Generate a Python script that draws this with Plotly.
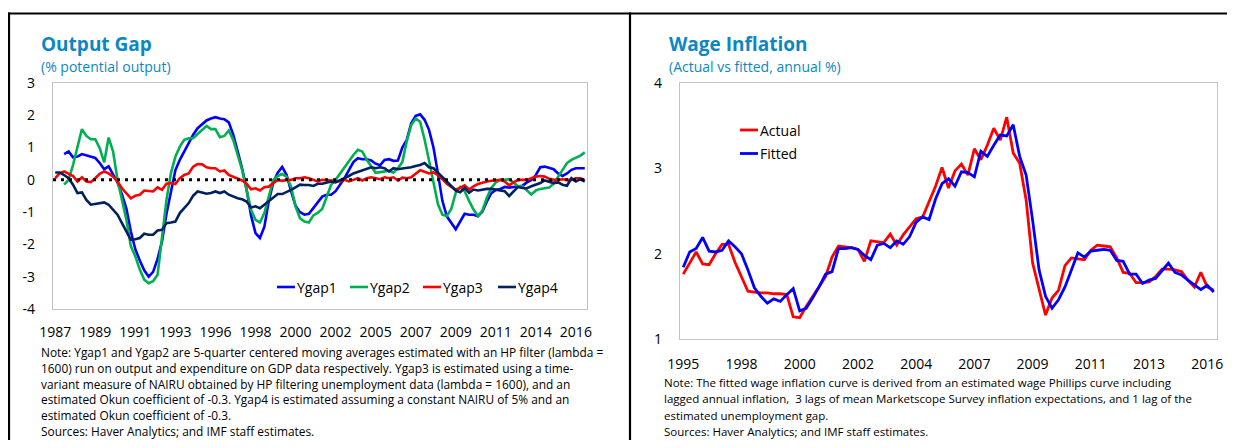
import plotly.graph_objects as go

# ---------------- data ----------------
left_quarters = [f"{1987 + i // 4}Q{i % 4 + 1}" for i in range(120)]
left_tick_quarters = ["1987Q1", "1989Q2", "1991Q3", "1993Q4", "1996Q1", "1998Q2", "2000Q3",
                      "2002Q4", "2005Q1", "2007Q2", "2009Q3", "2011Q4", "2014Q1", "2016Q2"]
left_tick_labels = ["1987", "1989", "1991", "1993", "1996", "1998", "2000",
                    "2002", "2005", "2007", "2009", "2011", "2014", "2016"]
left_y_ticks = [-4, -3, -2, -1, 0, 1, 2, 3]
left_y_labels = ["-4", "-3", "-2", "-1", "0", "1", "2", "3"]

ygap1 = [None, None, 0.80, 0.88, 0.70, 0.72, 0.80, 0.76, 0.70, 0.68,
         0.52, 0.33, 0.42, 0.15, -0.08, -0.45, -0.9, -1.6, -2.15, -2.5,
         -2.8, -3.0, -2.85, -2.45, -1.9, -1.05, -0.35, 0.3, 0.62, 0.88,
         1.15, 1.4, 1.6, 1.72, 1.84, 1.9, 1.94, 1.9, 1.88, 1.78,
         1.4, 0.88, 0.35, -0.3, -1.1, -1.65, -1.8, -1.45, -0.65, -0.08,
         0.22, 0.4, 0.15, -0.35, -0.8, -1.0, -1.08, -1.05, -0.88, -0.72,
         -0.52, -0.46, -0.46, -0.35, -0.15, 0.05, 0.3, 0.55, 0.67, 0.64,
         0.64, 0.6, 0.5, 0.45, 0.62, 0.64, 0.59, 0.6, 1.0, 1.24,
         1.75, 1.98, 2.03, 1.86, 1.55, 1.0, 0.2, -0.65, -1.13, -1.34,
         -1.53, -1.29, -1.05, -1.08, -1.08, -1.13, -0.98, -0.67, -0.41, -0.31,
         -0.28, -0.22, -0.24, -0.22, -0.21, -0.18, -0.08, 0.0, 0.15, 0.39,
         0.41, 0.36, 0.33, 0.2, 0.12, 0.2, 0.31, 0.36, 0.36, 0.36]
ygap2 = [None, None, -0.15, 0.0, 0.46, 1.03, 1.57, 1.36, 1.26, 1.26,
         0.98, 0.54, 1.31, 0.88, 0.0, -0.62, -1.24, -2.06, -2.37, -2.78,
         -3.09, -3.2, -3.14, -2.94, -1.75, -0.62, 0.21, 0.72, 1.03, 1.24,
         1.29, 1.29, 1.42, 1.53, 1.67, 1.57, 1.57, 1.32, 1.36, 1.53,
         1.24, 0.77, 0.31, -0.31, -0.93, -1.24, -1.32, -1.03, -0.52, 0.0,
         0.12, 0.18, 0.1, -0.21, -0.82, -1.19, -1.29, -1.32, -1.1, -1.02,
         -0.9, -0.55, -0.15, 0.0, 0.2, 0.41, 0.57, 0.77, 0.93, 0.88,
         0.62, 0.4, 0.22, 0.24, 0.27, 0.28, 0.22, 0.36, 0.55, 1.2,
         1.7, 1.9, 1.8, 1.25, 0.6, -0.05, -0.75, -1.08, -1.12, -0.9,
         -0.4, -0.22, -0.35, -0.65, -0.92, -1.12, -0.95, -0.55, -0.25, -0.08,
         0.0, 0.0, 0.02, -0.08, -0.2, -0.2, -0.33, -0.45, -0.33, -0.28,
         -0.26, -0.24, -0.12, 0.08, 0.3, 0.52, 0.62, 0.68, 0.75, 0.85]
ygap3 = [0.05, 0.2, 0.26, 0.18, 0.12, -0.05, 0.08, -0.05, -0.07, 0.05,
         0.19, 0.26, 0.2, 0.1, -0.05, -0.26, -0.41, -0.57, -0.49, -0.46,
         -0.33, -0.34, -0.36, -0.23, -0.31, -0.12, -0.1, -0.13, 0.05, 0.15,
         0.2, 0.41, 0.49, 0.48, 0.39, 0.36, 0.36, 0.26, 0.29, 0.15,
         0.1, 0.05, -0.02, -0.12, -0.29, -0.26, -0.33, -0.23, -0.21, -0.1,
         0.0, -0.03, 0.0, 0.0, 0.05, 0.05, 0.08, 0.05, 0.0, -0.05,
         0.0, 0.0, -0.02, -0.03, -0.05, 0.0, -0.05, 0.0, 0.05, -0.02,
         0.05, 0.08, 0.05, 0.02, 0.08, 0.05, 0.08, -0.02, 0.07, 0.05,
         0.08, 0.2, 0.3, 0.25, 0.2, 0.23, 0.15, 0.02, -0.12, -0.22,
         -0.3, -0.25, -0.17, -0.3, -0.2, -0.13, -0.08, -0.05, -0.03, -0.02,
         0.0, -0.05, -0.17, -0.08, 0.0, 0.0, 0.0, 0.05, 0.1, 0.12,
         0.1, 0.03, 0.0, 0.0, 0.02, 0.0, 0.0, 0.05, 0.05, 0.0]
ygap4 = [0.23, 0.23, 0.15, 0.05, -0.15, -0.41, -0.39, -0.62, -0.77, -0.74,
         -0.72, -0.7, -0.77, -0.93, -1.08, -1.34, -1.6, -1.86, -1.84, -1.8,
         -1.67, -1.7, -1.7, -1.57, -1.55, -1.34, -1.32, -1.29, -1.03, -0.88,
         -0.72, -0.49, -0.36, -0.39, -0.43, -0.41, -0.36, -0.41, -0.36, -0.46,
         -0.52, -0.57, -0.6, -0.67, -0.86, -0.82, -0.88, -0.77, -0.67, -0.57,
         -0.44, -0.44, -0.38, -0.31, -0.23, -0.15, -0.16, -0.16, -0.19, -0.12,
         -0.12, -0.08, -0.05, -0.08, -0.02, 0.05, 0.12, 0.2, 0.25, 0.31,
         0.36, 0.39, 0.36, 0.39, 0.36, 0.26, 0.36, 0.33, 0.35, 0.36,
         0.39, 0.43, 0.46, 0.52, 0.39, 0.36, 0.22, 0.1, -0.05, -0.2,
         -0.33, -0.38, -0.25, -0.4, -0.3, -0.33, -0.3, -0.28, -0.28, -0.3,
         -0.31, -0.35, -0.5, -0.36, -0.22, -0.25, -0.26, -0.2, -0.15, -0.1,
         -0.02, -0.05, -0.1, -0.08, -0.15, -0.18, 0.05, -0.05, 0.02, -0.05]
gap_names = ["Ygap1", "Ygap2", "Ygap3", "Ygap4"]
gap_colors = ["#0000ff", "#00b050", "#ff0000", "#002060"]

right_quarters = [f"{1995 + (i + 3) // 4}Q{(i + 3) % 4 + 1}" for i in range(83)]
right_tick_quarters = ["1995Q4", "1998Q1", "2000Q2", "2002Q3", "2004Q4",
                       "2007Q1", "2009Q2", "2011Q3", "2013Q4", "2016Q1"]
right_tick_labels = ["1995", "1998", "2000", "2002", "2004",
                     "2007", "2009", "2011", "2013", "2016"]
right_y_ticks = [1, 2, 3, 4]
right_y_labels = ["1", "2", "3", "4"]

actual = [1.76, 1.89, 2.02, 1.88, 1.87, 2.0, 2.11, 2.11, 1.9, 1.73,
          1.56, 1.55, 1.54, 1.54, 1.53, 1.53, 1.52, 1.26, 1.25, 1.38,
          1.5, 1.61, 1.73, 1.96, 2.09, 2.08, 2.07, 2.05, 1.91, 2.15,
          2.14, 2.13, 2.23, 2.1, 2.22, 2.32, 2.41, 2.43, 2.62, 2.79,
          3.01, 2.77, 2.97, 3.05, 2.92, 3.23, 3.1, 3.27, 3.47, 3.33,
          3.6, 3.18, 3.06, 2.63, 1.89, 1.57, 1.28, 1.48, 1.57, 1.86,
          1.95, 1.94, 1.93, 2.04, 2.1, 2.09, 2.08, 1.95, 1.78, 1.77,
          1.66, 1.66, 1.67, 1.73, 1.82, 1.82, 1.81, 1.79, 1.69, 1.61,
          1.78, 1.61, 1.57]
fitted = [1.84, 2.02, 2.06, 2.19, 2.03, 2.02, 2.04, 2.15, 2.08, 2.0,
          1.81, 1.6, 1.5, 1.42, 1.47, 1.44, 1.52, 1.59, 1.33, 1.36,
          1.48, 1.61, 1.76, 1.79, 2.06, 2.06, 2.07, 2.05, 1.98, 1.93,
          2.1, 2.12, 2.07, 2.15, 2.11, 2.2, 2.37, 2.43, 2.4, 2.64,
          2.82, 2.88, 2.79, 2.96, 2.95, 2.9, 3.2, 3.14, 3.27, 3.39,
          3.38, 3.51, 3.14, 2.92, 2.39, 1.81, 1.5, 1.36, 1.46, 1.61,
          1.81, 2.01, 1.96, 2.03, 2.04, 2.05, 2.04, 1.92, 1.91, 1.76,
          1.76, 1.65, 1.69, 1.71, 1.8, 1.89, 1.78, 1.75, 1.69, 1.64,
          1.58, 1.63, 1.55]
wage_names = ["Actual", "Fitted"]
wage_colors = ["#ff0000", "#0000ff"]

left_title = "Output Gap"
left_subtitle = "(% potential output)"
right_title = "Wage Inflation"
right_subtitle = "(Actual vs fitted, annual %)"
left_notes = [
    "Note: Ygap1 and Ygap2 are 5-quarter centered moving averages estimated with an HP filter (lambda =",
    "1600) run on output and expenditure on GDP data respectively. Ygap3 is estimated using a time-",
    "variant measure of NAIRU obtained by HP filtering unemployment data (lambda = 1600), and an",
    "estimated Okun coefficient of -0.3. Ygap4 is estimated assuming a constant NAIRU of 5% and an",
    "estimated Okun coefficient of -0.3.",
    "Sources: Haver Analytics; and IMF staff estimates.",
]
right_notes = [
    "Note: The fitted wage inflation curve is derived from an estimated wage Phillips curve including",
    "lagged annual inflation,  3 lags of mean Marketscope Survey inflation expectations, and 1 lag of the",
    "estimated unemployment gap.",
    "Sources: Haver Analytics; and IMF staff estimates.",
]

# ---------------- layout helpers ----------------
# page is 1235x448 with the default 8px body margin -> figure 1219x432 at (8, 8)
OFF = 8
W, H = 1235 - 2 * OFF, 448 - 2 * OFF
FONT = "Open Sans"
TITLE_COLOR = "#0b87c2"


def px(x):
    return (x - OFF) / W


def py(y):
    return 1 - (y - OFF) / H


fig = go.Figure()

for name, vals, col in zip(gap_names, [ygap1, ygap2, ygap3, ygap4], gap_colors):
    fig.add_trace(go.Scatter(x=left_quarters, y=vals, mode="lines", name=name,
                             line=dict(color=col, width=2.6), xaxis="x", yaxis="y",
                             showlegend=False, connectgaps=False))

for name, vals, col in zip(wage_names, [actual, fitted], wage_colors):
    fig.add_trace(go.Scatter(x=right_quarters, y=vals, mode="lines", name=name,
                             line=dict(color=col, width=2.8), xaxis="x2", yaxis="y2",
                             showlegend=False))

axis_common = dict(showgrid=False, zeroline=False, showline=True, mirror=True,
                   linecolor="#c4c4c4", linewidth=1.2, automargin=False,
                   ticks="outside", tickcolor="rgba(0,0,0,0)",
                   tickfont=dict(family=FONT, size=14, color="#000000"))

fig.update_layout(
    width=W, height=H, autosize=False,
    margin=dict(l=0, r=0, t=0, b=0, pad=0, autoexpand=False),
    paper_bgcolor="white", plot_bgcolor="white",
    xaxis=dict(domain=[px(53), px(587)], anchor="y", type="category",
               range=[-0.5, 119.5], tickmode="array",
               tickvals=left_tick_quarters, ticktext=left_tick_labels,
               ticklen=10, **axis_common),
    yaxis=dict(domain=[py(309), py(83)], anchor="x", range=[-4, 3],
               tickmode="array", tickvals=left_y_ticks, ticktext=left_y_labels,
               ticklen=14, **axis_common),
    xaxis2=dict(domain=[px(680), px(1217)], anchor="y2", type="category",
                range=[-0.5, 82.5], tickmode="array",
                tickvals=right_tick_quarters, ticktext=right_tick_labels,
                ticklen=12, **axis_common),
    yaxis2=dict(domain=[py(339), py(83)], anchor="x2", range=[1, 4],
                tickmode="array", tickvals=right_y_ticks, ticktext=right_y_labels,
                ticklen=14, **axis_common),
)

shapes = []
# zero reference line (dotted)
shapes.append(dict(type="line", xref="x domain", yref="y", x0=0, x1=1, y0=0, y1=0,
                   line=dict(color="black", width=3, dash="3px,5px")))
# panel frames
frame = dict(color="black", width=2.2)
shapes.append(dict(type="line", xref="paper", yref="paper", x0=px(8), x1=1.02,
                   y0=py(13.5), y1=py(13.5), line=frame))
shapes.append(dict(type="line", xref="paper", yref="paper", x0=px(9), x1=px(9),
                   y0=py(12.5), y1=-0.05, line=frame))
shapes.append(dict(type="line", xref="paper", yref="paper", x0=px(630), x1=px(630),
                   y0=py(12.5), y1=-0.05, line=frame))

annotations = []


def text(x, y, s, size, color="#000000", bold=False):
    annotations.append(dict(
        xref="paper", yref="paper", x=px(x), y=py(y), xanchor="left", yanchor="middle",
        text=f"<b>{s}</b>" if bold else s, showarrow=False,
        font=dict(family=FONT, size=size, color=color)))


text(39, 44, left_title, 19, TITLE_COLOR, bold=True)
text(39, 66.5, left_subtitle, 14, TITLE_COLOR)
text(667, 44, right_title, 19, TITLE_COLOR, bold=True)
text(667, 66.5, right_subtitle, 14, TITLE_COLOR)

for i, line in enumerate(left_notes):
    text(39, 352 + i * 15.8, line, 11.9)
for i, line in enumerate(right_notes):
    text(662, 382 + i * 16.6, line, 11.5)

# manual legends
left_leg_x = [277, 350, 423, 498]
for name, col, lx in zip(gap_names, gap_colors, left_leg_x):
    shapes.append(dict(type="line", xref="paper", yref="paper", x0=px(lx), x1=px(lx + 18),
                       y0=py(287), y1=py(287), line=dict(color=col, width=2.6)))
    text(lx + 18, 287, name, 14)

for k, (name, col) in enumerate(zip(wage_names, wage_colors)):
    yy = 130 + k * 23.5
    shapes.append(dict(type="line", xref="paper", yref="paper", x0=px(740), x1=px(758),
                       y0=py(yy), y1=py(yy), line=dict(color=col, width=2.8)))
    text(758, yy, name, 14)

fig.update_layout(shapes=shapes, annotations=annotations)

fig.write_html("out.html", config={"displayModeBar": False})
